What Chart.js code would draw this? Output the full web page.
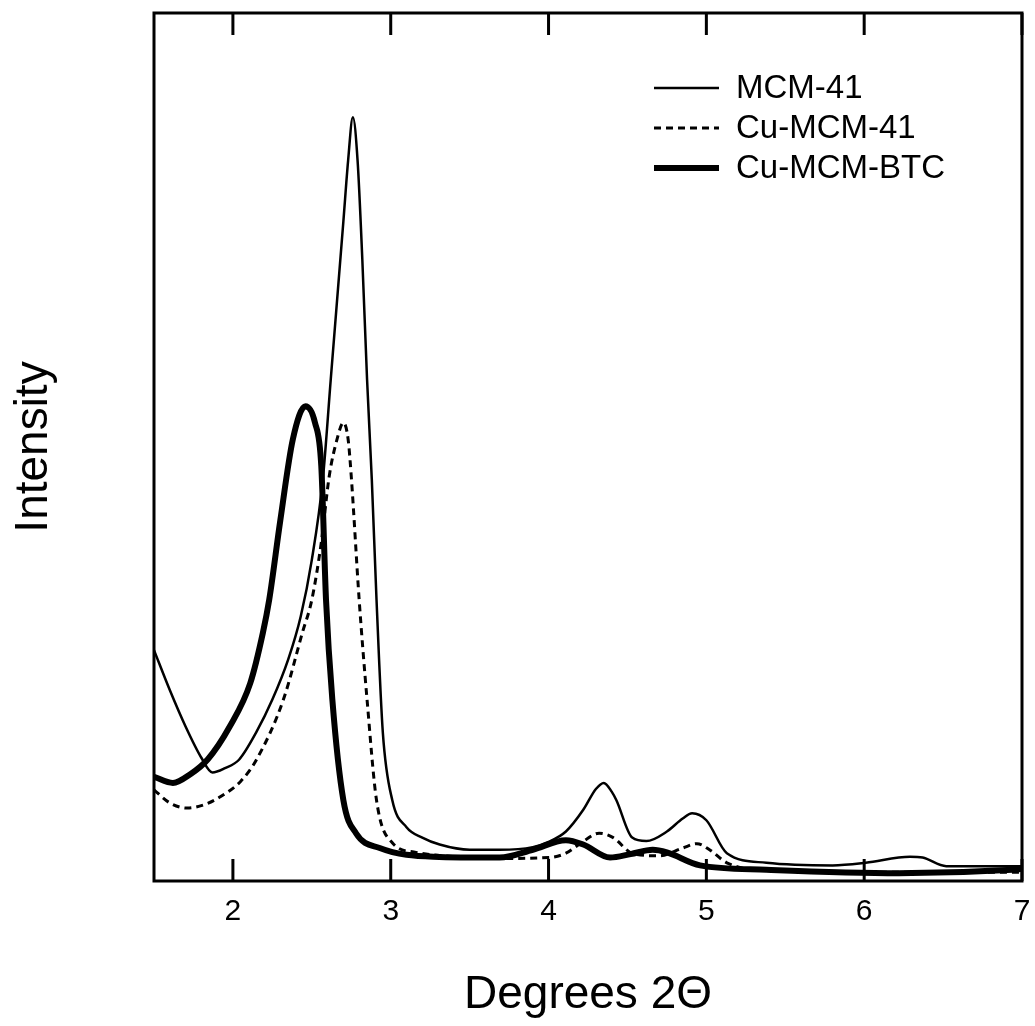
<!DOCTYPE html>
<html>
<head>
<meta charset="utf-8">
<script src="https://cdn.jsdelivr.net/npm/chart.js@4/dist/chart.umd.min.js"></script>
<style>
  html, body { margin: 0; padding: 0; background: #fff; }
  #wrap { width: 1035px; height: 1026px; }
</style>
</head>
<body>
<div id="wrap"><canvas id="xrd"></canvas></div>
<script>
// degrees 2theta
const xMcm = [1.50, 1.60, 1.70, 1.80, 1.87, 1.95, 2.04, 2.15, 2.25, 2.35, 2.43, 2.50, 2.57, 2.62, 2.70, 2.73, 2.76, 2.79, 2.82, 2.85, 2.88, 2.91, 2.95, 3.01, 3.10, 3.20, 3.31, 3.50, 3.69, 3.90, 4.00, 4.11, 4.22, 4.30, 4.35, 4.40, 4.43, 4.53, 4.62, 4.75, 4.85, 4.91, 5.00, 5.13, 5.38, 5.80, 6.01, 6.29, 6.37, 6.52, 7.00];
const yMcm = [26.6, 22.0, 17.8, 14.2, 12.5, 13.0, 14.0, 17.2, 20.9, 25.5, 30.5, 37.0, 46.3, 57.8, 76.0, 83.0, 88.0, 83.0, 71.6, 57.8, 46.3, 32.4, 17.1, 9.3, 6.2, 5.0, 4.2, 3.6, 3.6, 3.9, 4.5, 5.7, 8.2, 10.6, 11.3, 10.3, 9.3, 5.0, 4.6, 5.7, 7.2, 7.8, 7.0, 3.2, 2.1, 1.8, 2.1, 2.8, 2.7, 1.7, 1.7];

const xCu = [1.50, 1.60, 1.71, 1.82, 1.92, 2.05, 2.15, 2.32, 2.44, 2.50, 2.56, 2.61, 2.66, 2.70, 2.73, 2.75, 2.80, 2.85, 2.91, 3.01, 3.16, 3.40, 3.70, 4.00, 4.11, 4.20, 4.32, 4.41, 4.53, 4.70, 4.85, 4.94, 5.02, 5.13, 5.38, 6.00, 7.00];
const yCu = [10.5, 9.0, 8.4, 8.8, 9.7, 11.5, 14.0, 20.9, 28.6, 32.4, 39.0, 46.6, 50.9, 52.8, 50.9, 46.6, 32.4, 20.9, 9.3, 4.4, 3.3, 2.8, 2.6, 2.7, 3.2, 4.3, 5.5, 5.0, 3.2, 2.9, 3.8, 4.3, 3.6, 2.1, 1.2, 1.0, 1.0];

const xBtc = [1.50, 1.62, 1.73, 1.84, 1.98, 2.11, 2.19, 2.23, 2.30, 2.38, 2.46, 2.52, 2.56, 2.59, 2.63, 2.70, 2.78, 2.93, 3.27, 3.69, 3.90, 4.11, 4.22, 4.39, 4.52, 4.66, 4.75, 4.96, 5.38, 6.22, 6.94, 7.00];
const yBtc = [12.0, 11.3, 12.3, 14.0, 17.8, 22.8, 28.6, 32.4, 41.5, 50.9, 54.7, 52.8, 47.8, 32.4, 20.9, 9.3, 5.5, 3.8, 2.8, 2.7, 3.6, 4.7, 4.2, 2.7, 3.1, 3.6, 3.3, 1.8, 1.3, 0.9, 1.3, 1.4];

const seriesNames = ['MCM-41', 'Cu-MCM-41', 'Cu-MCM-BTC'];
const xTicks = [2, 3, 4, 5, 6, 7];

const FONT = '"Liberation Sans", Arial, sans-serif';

function pts(xs, ys) {
  return xs.map((x, i) => ({x: x, y: ys[i]}));
}

// frame + inward ticks top and bottom
const framePlugin = {
  id: 'frame',
  beforeDatasetsDraw(chart) {
    const {ctx, chartArea: a, scales} = chart;
    ctx.save();
    ctx.strokeStyle = '#000';
    ctx.lineWidth = 3;
    ctx.strokeRect(a.left, a.top, a.right - a.left, a.bottom - a.top);
    scales.x.ticks.forEach(t => {
      const px = scales.x.getPixelForValue(t.value);
      ctx.beginPath();
      ctx.moveTo(px, a.bottom);
      ctx.lineTo(px, a.bottom - 22);
      ctx.moveTo(px, a.top);
      ctx.lineTo(px, a.top + 22);
      ctx.stroke();
    });
    ctx.restore();
  }
};

// legend inside the plot, top right
const legendPlugin = {
  id: 'insideLegend',
  afterDraw(chart) {
    const ctx = chart.ctx;
    ctx.save();
    ctx.font = '33px ' + FONT;
    ctx.textBaseline = 'middle';
    ctx.fillStyle = '#000';
    chart.data.datasets.forEach((ds, i) => {
      const y = 88 + i * 40;
      ctx.beginPath();
      ctx.strokeStyle = '#000';
      ctx.lineWidth = ds.borderWidth;
      ctx.setLineDash(ds.borderDash || []);
      ctx.moveTo(654, y);
      ctx.lineTo(719, y);
      ctx.stroke();
      ctx.setLineDash([]);
      ctx.fillText(ds.label, 736, y + 1);
    });
    ctx.restore();
  }
};

const ctx = document.getElementById('xrd').getContext('2d');
const xrdChart = new Chart(ctx, {
  type: 'line',
  data: {
    datasets: [{
      label: seriesNames[0],
      data: pts(xMcm, yMcm),
      borderColor: '#000',
      borderWidth: 2.5,
      pointRadius: 0,
      cubicInterpolationMode: 'monotone'
    }, {
      label: seriesNames[1],
      data: pts(xCu, yCu),
      borderColor: '#000',
      borderWidth: 3,
      borderDash: [7, 5],
      pointRadius: 0,
      cubicInterpolationMode: 'monotone'
    }, {
      label: seriesNames[2],
      data: pts(xBtc, yBtc),
      borderColor: '#000',
      borderWidth: 6,
      pointRadius: 0,
      cubicInterpolationMode: 'monotone'
    }]
  },
  options: {
    responsive: true,
    maintainAspectRatio: false,
    animation: false,
    layout: {padding: {left: 0, right: 13, top: 13, bottom: 0}},
    plugins: {
      legend: {display: false},
      tooltip: {enabled: false}
    },
    scales: {
      x: {
        type: 'linear',
        min: 1.5,
        max: 7,
        afterBuildTicks: function(scale) {
          scale.ticks = xTicks.map(v => ({value: v}));
        },
        afterFit: function(scale) {
          scale.height = 145;
          scale.paddingLeft = 0;
          scale.paddingRight = 0;
        },
        grid: {display: false, drawTicks: false},
        border: {display: false},
        ticks: {
          padding: 13,
          color: '#000',
          font: {family: FONT, size: 30}
        },
        title: {
          display: true,
          text: 'Degrees 2Θ',
          color: '#000',
          font: {family: FONT, size: 46},
          padding: {top: 0, bottom: 3}
        }
      },
      y: {
        min: 0,
        max: 100,
        afterFit: function(scale) {
          scale.width = 154;
          scale.paddingTop = 0;
          scale.paddingBottom = 0;
        },
        grid: {display: false, drawTicks: false},
        border: {display: false},
        ticks: {display: false},
        title: {
          display: true,
          text: 'Intensity',
          color: '#000',
          font: {family: FONT, size: 46},
          padding: {top: 7, bottom: 0}
        }
      }
    }
  },
  plugins: [framePlugin, legendPlugin]
});
</script>
</body>
</html>
